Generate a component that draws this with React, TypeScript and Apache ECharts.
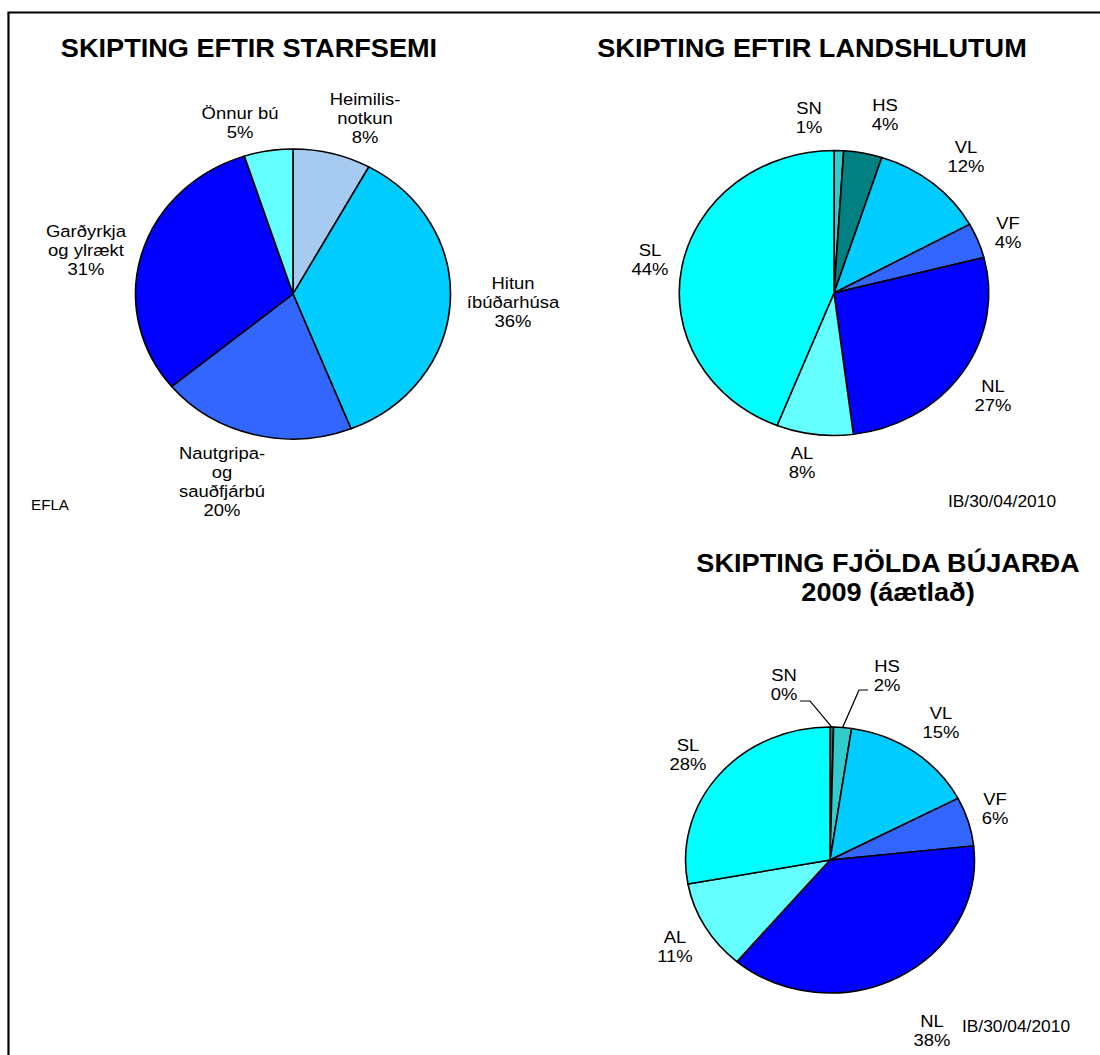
import React, { useEffect, useRef } from 'react';
import * as echarts from 'echarts';

// Skipting eftir starfsemi (%)
const activityNames = ['Heimilis-\nnotkun', 'Hitun\níbúðarhúsa', 'Nautgripa-\nog\nsauðfjárbú', 'Garðyrkja\nog ylrækt', 'Önnur bú'];
const activityShares = [8, 36, 20, 31, 5];
const activityColors = ['#A6CAF0', '#00CCFF', '#3366FF', '#0000FF', '#66FFFF'];

// Skipting eftir landshlutum (%)
const regionNames = ['SN', 'HS', 'VL', 'VF', 'NL', 'AL', 'SL'];
const regionShares = [1, 4, 12, 4, 27, 8, 44];
const regionColors = ['#33CCCC', '#008080', '#00CCFF', '#3366FF', '#0000FF', '#66FFFF', '#00FFFF'];

// Skipting fjölda bújarða 2009, áætlað (%)
const farmShares2009 = [0.4, 2, 15, 6, 38, 11, 28];
const farmColors = ['#008080', '#33CCCC', '#00CCFF', '#3366FF', '#0000FF', '#66FFFF', '#00FFFF'];

const titleTexts = ['SKIPTING EFTIR STARFSEMI', 'SKIPTING EFTIR LANDSHLUTUM', 'SKIPTING FJÖLDA BÚJARÐA\n2009 (áætlað)'];
const sourceNote = 'EFLA';
const dateNote = 'IB/30/04/2010';

const FONT = '"Liberation Sans", Arial, sans-serif';

// The sheet is drawn in a narrower frame and widened by this factor,
// which gives the slightly oval pies and wide lettering of the printout.
const STRETCH = 1.086;
const PAGE_W = 1100;
const PAGE_H = 1055;
const sx = (x: number) => x / STRETCH;

type PieLayout = {
  center: [number, number]; // page pixels
  radius: number;
  labelCenters: [number, number][]; // page pixels
  leaders?: Record<number, [[number, number], [number, number]]>;
};

const pieLayouts: PieLayout[] = [
  {
    center: [293, 294],
    radius: 145,
    labelCenters: [[365, 118], [513, 302], [222, 482], [86, 250], [240, 123]],
  },
  {
    center: [834, 293],
    radius: 142.5,
    labelCenters: [[809, 118], [885, 115], [966, 157], [1008, 233], [993, 396], [802, 463], [650, 260]],
  },
  {
    center: [830, 860],
    radius: 133,
    labelCenters: [[784, 685], [887, 676], [941, 723], [995, 809], [932, 1031], [675, 947], [688, 755]],
    leaders: {
      0: [[800, 701], [810, 701]],
      1: [[868, 690], [859, 690]],
    },
  },
];

function arcPoint(values: number[], index: number, cx: number, cy: number, r: number): [number, number] {
  const total = values.reduce((a, b) => a + b, 0);
  let before = 0;
  for (let i = 0; i < index; i++) before += values[i];
  const theta = ((before + values[index] / 2) / total) * Math.PI * 2;
  return [cx + r * Math.sin(theta), cy - r * Math.cos(theta)];
}

function pieSeries(names: string[], values: number[], colors: string[], layout: PieLayout) {
  const cx = sx(layout.center[0]);
  const cy = layout.center[1];
  return {
    type: 'pie',
    center: [cx, cy],
    radius: layout.radius,
    startAngle: 90,
    clockwise: true,
    avoidLabelOverlap: false,
    silent: true,
    itemStyle: { borderColor: '#000000', borderWidth: 1.5 },
    label: {
      show: true,
      position: 'outside',
      fontFamily: FONT,
      fontSize: 17,
      lineHeight: 19,
      color: '#000000',
      formatter: (p: any) => `${p.name}\n${Math.round(p.value)}%`,
    },
    labelLine: { show: false },
    labelLayout: (params: any) => {
      const [lx, ly] = layout.labelCenters[params.dataIndex];
      const out: any = { x: sx(lx), y: ly, align: 'center', verticalAlign: 'middle' };
      const leader = layout.leaders && layout.leaders[params.dataIndex];
      if (leader) {
        out.labelLinePoints = [
          [sx(leader[0][0]), leader[0][1]],
          [sx(leader[1][0]), leader[1][1]],
          arcPoint(values, params.dataIndex, cx, cy, layout.radius),
        ];
      }
      return out;
    },
    data: values.map((v, i) => ({
      name: names[i],
      value: v,
      itemStyle: { color: colors[i] },
      labelLine: layout.leaders && layout.leaders[i]
        ? { show: true, length: 10, length2: 8, lineStyle: { color: '#000000', width: 1.2 } }
        : { show: false },
    })),
  };
}

export default function App() {
  const ref = useRef<HTMLDivElement>(null);

  useEffect(() => {
    document.body.style.margin = '0';
    if (!ref.current) return;
    const chart = echarts.init(ref.current, null, { renderer: 'svg' });
    const titleStyle = { fontFamily: FONT, fontWeight: 'bold' as const, fontSize: 25, color: '#000000', lineHeight: 29 };
    const noteStyle = (size: number) => ({ font: `${size}px ${FONT}`, fill: '#000000', textAlign: 'center', textVerticalAlign: 'middle' });
    chart.setOption({
      animation: false,
      backgroundColor: '#ffffff',
      title: [
        { text: titleTexts[0], left: sx(249), top: 34, padding: 0, textAlign: 'center', textStyle: titleStyle },
        { text: titleTexts[1], left: sx(812), top: 34, padding: 0, textAlign: 'center', textStyle: titleStyle },
        { text: titleTexts[2], left: sx(888), top: 549, padding: 0, textAlign: 'center', textStyle: titleStyle },
      ],
      graphic: [
        { type: 'line', shape: { x1: sx(8.5), y1: 12.5, x2: sx(8.5), y2: PAGE_H }, style: { stroke: '#000000', lineWidth: 2 } },
        { type: 'line', shape: { x1: sx(7.5), y1: 12.5, x2: sx(PAGE_W), y2: 12.5 }, style: { stroke: '#000000', lineWidth: 2 } },
        { type: 'text', x: sx(50), y: 505, style: { text: sourceNote, ...noteStyle(14) } },
        { type: 'text', x: sx(1002), y: 502, style: { text: dateNote, ...noteStyle(16) } },
        { type: 'text', x: sx(1016), y: 1027, style: { text: dateNote, ...noteStyle(16) } },
      ],
      series: [
        pieSeries(activityNames, activityShares, activityColors, pieLayouts[0]),
        pieSeries(regionNames, regionShares, regionColors, pieLayouts[1]),
        pieSeries(regionNames, farmShares2009, farmColors, pieLayouts[2]),
      ],
    });
    return () => chart.dispose();
  }, []);

  return (
    <div style={{ width: PAGE_W, height: PAGE_H, overflow: 'hidden', background: '#ffffff' }}>
      <div
        ref={ref}
        style={{ width: PAGE_W / STRETCH, height: PAGE_H, transform: `scaleX(${STRETCH})`, transformOrigin: '0 0' }}
      />
    </div>
  );
}
